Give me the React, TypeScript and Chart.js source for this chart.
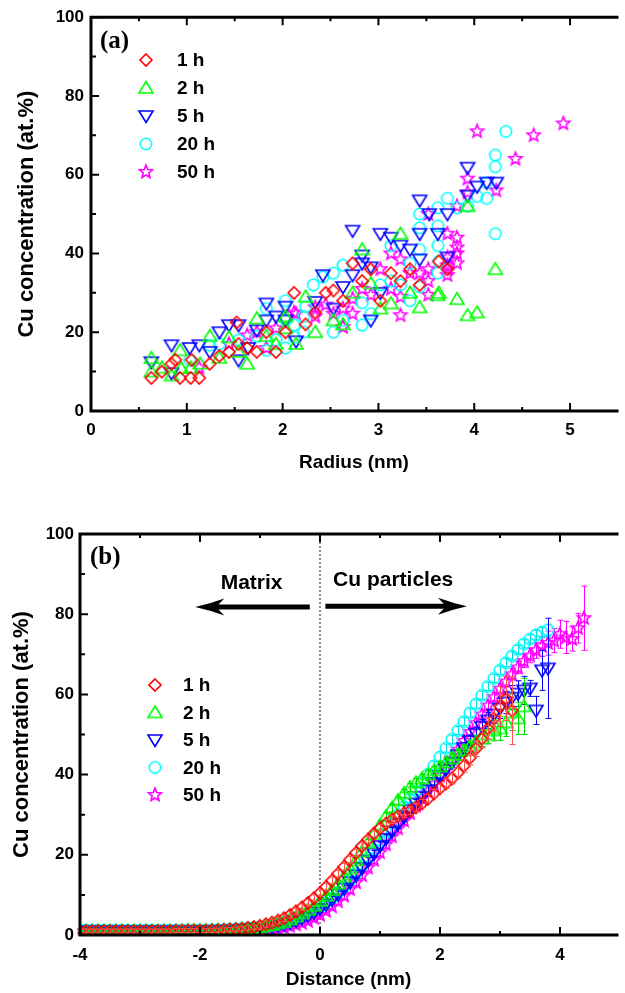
import React, { useEffect, useRef } from 'react';
import { Chart, registerables } from 'chart.js';

Chart.register(...registerables);

// ---------------- DATA ----------------
const seriesLabels = ['1 h', '2 h', '5 h', '20 h', '50 h'];

const radiusTicks = [0, 1, 2, 3, 4, 5];
const radiusMinorTicks = [0.5, 1.5, 2.5, 3.5, 4.5];
const concTicks = [0, 20, 40, 60, 80, 100];
const concMinorTicks = [10, 30, 50, 70, 90];
const distanceTicks = [-4, -2, 0, 2, 4];
const distanceMinorTicks = [-3, -1, 1, 3];

// Panel (a): [radius (nm), Cu concentration (at.%)]
const a1h: [number, number][] = [
  [0.63, 8.4], [0.74, 10.0], [0.84, 12.0], [0.88, 13.0], [0.93, 8.4], [1.04, 8.4], [1.13, 8.4], [1.05, 13.0],
  [1.24, 12.0], [1.34, 14.0], [1.44, 15.0], [1.52, 22.5], [1.54, 17.0], [1.63, 16.0], [1.73, 15.0], [1.83, 20.0],
  [1.93, 15.0], [2.03, 20.0], [2.12, 30.0], [2.24, 22.0], [2.34, 25.0], [2.45, 30.0], [2.53, 30.6], [2.63, 28.0],
  [2.73, 37.5], [2.83, 33.0], [2.92, 36.0], [3.02, 28.0], [3.13, 35.0], [3.23, 33.0], [3.33, 36.0], [3.43, 32.0],
  [3.63, 38.0], [3.72, 36.0],
];
const a2h: [number, number][] = [
  [0.63, 13.4], [0.63, 10.0], [0.74, 11.0], [0.84, 9.0], [0.93, 15.4], [0.94, 10.9], [1.04, 11.0], [1.14, 12.0],
  [1.24, 19.0], [1.34, 13.5], [1.44, 18.7], [1.54, 15.0], [1.63, 12.0], [1.73, 23.5], [1.83, 19.0], [1.93, 17.0],
  [2.03, 24.0], [2.03, 21.0], [2.14, 17.0], [2.24, 29.0], [2.34, 20.0], [2.53, 23.0], [2.63, 22.0], [2.73, 30.0],
  [2.83, 41.0], [2.92, 32.4], [3.02, 26.0], [3.13, 27.3], [3.23, 45.0], [3.33, 30.0], [3.43, 26.3], [3.62, 29.4],
  [3.63, 30.0], [3.82, 28.4], [3.93, 24.3], [3.93, 52.0], [4.03, 25.0], [4.22, 36.0],
];
const a5h: [number, number][] = [
  [0.63, 12.4], [0.84, 16.7], [0.84, 9.6], [1.03, 16.0], [1.13, 16.7], [1.24, 15.0], [1.34, 20.0], [1.44, 21.8],
  [1.54, 21.8], [1.54, 12.9], [1.64, 16.0], [1.73, 20.5], [1.83, 23.0], [1.83, 27.3], [1.93, 24.0], [2.03, 26.5],
  [2.03, 23.0], [2.14, 17.7], [2.34, 27.7], [2.42, 34.5], [2.53, 26.0], [2.63, 31.5], [2.73, 34.5], [2.73, 45.8],
  [2.83, 39.5], [2.83, 37.5], [2.92, 36.5], [2.92, 23.0], [3.02, 45.0], [3.02, 30.0], [3.13, 44.0], [3.23, 42.0],
  [3.33, 41.0], [3.43, 53.5], [3.43, 45.0], [3.43, 38.5], [3.53, 50.0], [3.62, 45.0], [3.72, 50.0], [3.72, 39.0],
  [3.93, 54.7], [3.93, 61.8], [4.03, 57.0], [4.13, 58.0], [4.23, 58.0],
];
const a20h: [number, number][] = [
  [1.03, 12.9], [1.24, 16.7], [1.34, 17.0], [1.54, 18.0], [1.73, 19.0], [1.83, 15.4], [1.83, 26.0], [1.93, 18.0],
  [2.03, 16.0], [2.03, 23.0], [2.03, 28.0], [2.12, 21.8], [2.12, 18.7], [2.22, 24.0], [2.22, 20.0], [2.24, 26.5],
  [2.32, 32.0], [2.42, 34.0], [2.53, 35.0], [2.53, 20.0], [2.63, 37.0], [2.63, 23.0], [2.83, 27.5], [2.83, 21.8],
  [2.92, 24.7], [3.02, 32.0], [3.13, 42.0], [3.13, 33.0], [3.23, 32.0], [3.33, 37.5], [3.33, 28.0], [3.43, 41.0],
  [3.43, 46.5], [3.43, 50.0], [3.43, 31.5], [3.62, 51.6], [3.62, 47.0], [3.62, 42.0], [3.62, 35.0], [3.63, 38.0],
  [3.72, 54.0], [3.82, 51.6], [3.93, 52.0], [4.03, 54.5], [4.13, 58.0], [4.13, 54.0], [4.22, 65.0], [4.22, 62.0],
  [4.22, 45.0], [4.33, 71.0],
];
const a50h: [number, number][] = [
  [1.13, 11.0], [1.44, 17.0], [1.63, 19.2], [1.73, 20.0], [1.83, 16.0], [1.93, 21.0], [2.12, 25.0], [2.14, 24.7],
  [2.34, 26.3], [2.34, 24.0], [2.45, 27.0], [2.53, 24.7], [2.63, 26.0], [2.63, 21.3], [2.73, 28.5], [2.73, 24.7],
  [2.83, 31.0], [2.92, 29.5], [3.02, 36.0], [3.13, 40.0], [3.13, 31.0], [3.23, 38.5], [3.23, 29.0], [3.23, 24.3],
  [3.33, 35.0], [3.43, 35.0], [3.52, 50.0], [3.52, 36.0], [3.52, 33.0], [3.52, 29.5], [3.72, 36.0], [3.72, 34.5],
  [3.72, 45.0], [3.72, 39.0], [3.72, 37.0], [3.82, 40.0], [3.82, 37.5], [3.82, 44.0], [3.82, 41.5], [3.82, 52.0],
  [3.93, 59.0], [3.93, 55.5], [4.03, 71.0], [4.23, 56.0], [4.43, 64.0], [4.62, 70.0], [4.93, 73.0],
];

// Panel (b): distance (nm) shared by all profiles
const distance = [
  -4.0, -3.9, -3.8, -3.7, -3.6, -3.5, -3.4, -3.3, -3.2, -3.1,
  -3.0, -2.9, -2.8, -2.7, -2.6, -2.5, -2.4, -2.3, -2.2, -2.1,
  -2.0, -1.9, -1.8, -1.7, -1.6, -1.5, -1.4, -1.3, -1.2, -1.1,
  -1.0, -0.9, -0.8, -0.7, -0.6, -0.5, -0.4, -0.3, -0.2, -0.1,
  0.0, 0.1, 0.2, 0.3, 0.4, 0.5, 0.6, 0.7, 0.8, 0.9,
  1.0, 1.1, 1.2, 1.3, 1.4, 1.5, 1.6, 1.7, 1.8, 1.9,
  2.0, 2.1, 2.2, 2.3, 2.4, 2.5, 2.6, 2.7, 2.8, 2.9,
  3.0, 3.1, 3.2, 3.3, 3.4, 3.5, 3.6, 3.7, 3.8, 3.9,
  4.0, 4.1, 4.2, 4.3, 4.4,
];
const b1h = [
  1.0, 1.0, 1.0, 1.0, 1.0, 1.0, 1.0, 1.0, 1.0, 1.0,
  1.0, 1.0, 1.0, 1.0, 1.0, 1.0, 1.1, 1.1, 1.1, 1.1,
  1.1, 1.1, 1.2, 1.2, 1.3, 1.4, 1.5, 1.6, 1.8, 2.0,
  2.3, 2.7, 3.1, 3.6, 4.2, 5.0, 5.9, 6.9, 8.0, 9.2,
  10.5, 12.0, 13.6, 15.3, 17.0, 18.8, 20.5, 22.2, 23.8, 25.3,
  26.6, 27.8, 28.8, 29.6, 30.3, 31.0, 31.8, 32.8, 34.0, 35.3,
  36.6, 37.8, 39.0, 40.5, 42.2, 44.2, 46.5, 49.0, 51.5, 54.0,
  57.0, 59.0, 56.0,
];
const b1hErr = [
  0.5, 0.5, 0.5, 0.5, 0.5, 0.5, 0.5, 0.5, 0.5, 0.5,
  0.5, 0.5, 0.5, 0.5, 0.5, 0.5, 0.5, 0.5, 0.5, 0.5,
  0.5, 0.5, 0.5, 0.5, 0.5, 0.5, 0.5, 0.5, 0.5, 0.5,
  0.8, 0.8, 0.8, 0.8, 0.8, 0.8, 0.8, 0.8, 0.8, 0.8,
  0.8, 0.8, 0.8, 0.8, 0.8, 0.8, 0.8, 0.8, 0.8, 0.8,
  1.0, 1.0, 1.0, 1.0, 1.0, 1.0, 1.0, 1.0, 1.0, 1.0,
  1.1, 1.2, 1.3, 1.4, 1.6, 1.8, 2.0, 2.3, 2.7, 3.2,
  5.0, 5.5, 8.5,
];
const b2h = [
  1.0, 1.0, 1.0, 1.0, 1.0, 1.0, 1.0, 1.0, 1.0, 1.0,
  1.0, 1.0, 1.0, 1.0, 1.0, 1.0, 1.0, 1.0, 1.1, 1.1,
  1.1, 1.1, 1.1, 1.2, 1.2, 1.3, 1.3, 1.4, 1.5, 1.7,
  1.9, 2.2, 2.5, 2.9, 3.3, 3.9, 4.6, 5.4, 6.3, 7.3,
  8.5, 9.8, 11.2, 12.8, 14.6, 16.5, 18.6, 20.8, 23.0, 25.2,
  27.4, 29.6, 31.7, 33.6, 35.3, 36.8, 38.0, 39.0, 40.0, 41.0,
  42.0, 43.0, 44.0, 45.0, 46.0, 47.0, 48.0, 49.0, 50.0, 51.0,
  51.5, 53.0, 55.5, 54.0, 57.0,
];
const b2hErr = [
  0.5, 0.5, 0.5, 0.5, 0.5, 0.5, 0.5, 0.5, 0.5, 0.5,
  0.5, 0.5, 0.5, 0.5, 0.5, 0.5, 0.5, 0.5, 0.5, 0.5,
  0.5, 0.5, 0.5, 0.5, 0.5, 0.5, 0.5, 0.5, 0.5, 0.5,
  0.8, 0.8, 0.8, 0.8, 0.8, 0.8, 0.8, 0.8, 0.8, 0.8,
  0.8, 0.8, 0.8, 0.8, 0.8, 0.8, 0.8, 0.8, 0.8, 0.8,
  1.0, 1.0, 1.0, 1.0, 1.0, 1.0, 1.0, 1.0, 1.0, 1.0,
  1.1, 1.2, 1.3, 1.4, 1.5, 1.6, 1.8, 2.0, 2.3, 2.6,
  3.0, 3.5, 4.5, 4.0, 7.0,
];
const b5h = [
  0.9, 0.9, 0.9, 0.9, 0.9, 0.9, 0.9, 0.9, 0.9, 0.9,
  0.9, 0.9, 0.9, 0.9, 0.9, 0.9, 0.9, 0.9, 0.9, 0.9,
  1.0, 1.0, 1.0, 1.0, 1.1, 1.1, 1.2, 1.3, 1.4, 1.5,
  1.6, 1.8, 2.0, 2.3, 2.6, 3.0, 3.5, 4.1, 4.8, 5.6,
  6.5, 7.6, 8.8, 10.1, 11.6, 13.2, 14.9, 16.7, 18.5, 20.3,
  22.2, 24.0, 25.8, 27.6, 29.4, 31.1, 32.8, 34.5, 36.2, 37.9,
  39.6, 41.3, 43.0, 44.8, 46.6, 48.4, 50.2, 51.9, 53.5, 55.0,
  56.5, 58.0, 59.2, 60.2, 61.0, 61.5, 56.0, 66.0, 66.5,
];
const b5hErr = [
  0.5, 0.5, 0.5, 0.5, 0.5, 0.5, 0.5, 0.5, 0.5, 0.5,
  0.5, 0.5, 0.5, 0.5, 0.5, 0.5, 0.5, 0.5, 0.5, 0.5,
  0.5, 0.5, 0.5, 0.5, 0.5, 0.5, 0.5, 0.5, 0.5, 0.5,
  0.8, 0.8, 0.8, 0.8, 0.8, 0.8, 0.8, 0.8, 0.8, 0.8,
  0.8, 0.8, 0.8, 0.8, 0.8, 0.8, 0.8, 0.8, 0.8, 0.8,
  1.0, 1.0, 1.0, 1.0, 1.0, 1.0, 1.0, 1.0, 1.0, 1.0,
  1.0, 1.1, 1.2, 1.3, 1.4, 1.5, 1.6, 1.8, 2.0, 2.2,
  2.5, 2.8, 3.0, 3.2, 3.5, 2.0, 3.5, 5.0, 12.5,
];
const b20h = [
  1.2, 1.2, 1.2, 1.2, 1.2, 1.2, 1.2, 1.2, 1.2, 1.2,
  1.2, 1.2, 1.2, 1.2, 1.2, 1.2, 1.2, 1.2, 1.2, 1.2,
  1.2, 1.2, 1.3, 1.3, 1.3, 1.4, 1.5, 1.6, 1.7, 1.8,
  2.0, 2.2, 2.5, 2.8, 3.2, 3.7, 4.2, 4.8, 5.5, 6.2,
  7.0, 8.0, 9.2, 10.5, 12.0, 13.6, 15.3, 17.2, 19.2, 21.3,
  23.5, 25.7, 27.9, 30.0, 32.0, 34.0, 36.0, 38.0, 40.1, 42.2,
  44.4, 46.6, 48.8, 51.0, 53.2, 55.4, 57.6, 59.8, 62.0, 64.0,
  66.0, 67.9, 69.6, 71.2, 72.6, 73.8, 74.8, 75.5, 76.0,
];
const b20hErr = [
  0.5, 0.5, 0.5, 0.5, 0.5, 0.5, 0.5, 0.5, 0.5, 0.5,
  0.5, 0.5, 0.5, 0.5, 0.5, 0.5, 0.5, 0.5, 0.5, 0.5,
  0.5, 0.5, 0.5, 0.5, 0.5, 0.5, 0.5, 0.5, 0.5, 0.5,
  0.8, 0.8, 0.8, 0.8, 0.8, 0.8, 0.8, 0.8, 0.8, 0.8,
  0.8, 0.8, 0.8, 0.8, 0.8, 0.8, 0.8, 0.8, 0.8, 0.8,
  1.0, 1.0, 1.0, 1.0, 1.0, 1.0, 1.0, 1.0, 1.0, 1.0,
  1.0, 1.0, 1.0, 1.0, 1.0, 1.0, 1.0, 1.0, 1.0, 1.0,
  1.0, 1.0, 1.0, 1.0, 1.0, 1.0, 1.2, 1.2, 1.5,
];
const b50h = [
  0.5, 0.5, 0.5, 0.5, 0.5, 0.5, 0.5, 0.5, 0.5, 0.5,
  0.5, 0.5, 0.5, 0.5, 0.5, 0.5, 0.5, 0.5, 0.5, 0.5,
  0.5, 0.5, 0.5, 0.6, 0.6, 0.6, 0.7, 0.7, 0.8, 0.9,
  1.0, 1.2, 1.4, 1.6, 1.9, 2.2, 2.6, 3.0, 3.5, 4.2,
  5.0, 6.0, 7.1, 8.4, 9.8, 11.4, 13.1, 14.9, 16.8, 18.7,
  20.6, 22.6, 24.6, 26.6, 28.5, 30.4, 32.2, 34.0, 35.8, 37.7,
  39.7, 41.8, 44.0, 46.2, 48.4, 50.6, 52.8, 55.0, 57.2, 59.3,
  61.4, 63.2, 65.0, 66.7, 68.3, 69.7, 71.0, 72.0, 72.8, 73.4,
  75.0, 74.2, 73.8, 76.5, 79.0,
];
const b50hErr = [
  0.5, 0.5, 0.5, 0.5, 0.5, 0.5, 0.5, 0.5, 0.5, 0.5,
  0.5, 0.5, 0.5, 0.5, 0.5, 0.5, 0.5, 0.5, 0.5, 0.5,
  0.5, 0.5, 0.5, 0.5, 0.5, 0.5, 0.5, 0.5, 0.5, 0.5,
  0.8, 0.8, 0.8, 0.8, 0.8, 0.8, 0.8, 0.8, 0.8, 0.8,
  0.8, 0.8, 0.8, 0.8, 0.8, 0.8, 0.8, 0.8, 0.8, 0.8,
  1.0, 1.0, 1.0, 1.0, 1.0, 1.0, 1.0, 1.0, 1.0, 1.0,
  1.1, 1.1, 1.1, 1.1, 1.1, 1.1, 1.1, 1.1, 1.1, 1.1,
  1.2, 1.3, 1.4, 1.5, 1.6, 1.8, 2.0, 2.5, 3.0, 3.0,
  3.5, 4.0, 3.0, 3.7, 8.0,
];

// ---------------- STYLE ----------------
const COLORS = ['#ff0000', '#00ff00', '#0000ff', '#00ffff', '#ff00ff'];
const ERR_COLORS = ['#ff5050', '#00e000', '#0000ff', '#00e0e0', '#ff00ff'];
const SHAPES = ['diamond', 'triUp', 'triDown', 'circle', 'star'];
const SANS = '"Liberation Sans", Arial, Helvetica, sans-serif';
const SERIF = '"Liberation Serif", "Times New Roman", serif';

function makeMarker(shape: string, color: string): HTMLCanvasElement {
  const s = 18;
  const c = document.createElement('canvas');
  c.width = s;
  c.height = s;
  const g = c.getContext('2d')!;
  const m = s / 2;
  g.strokeStyle = color;
  g.lineWidth = 1.6;
  g.beginPath();
  if (shape === 'diamond') {
    g.moveTo(m, m - 6); g.lineTo(m + 6, m); g.lineTo(m, m + 6); g.lineTo(m - 6, m); g.closePath();
  } else if (shape === 'triUp') {
    g.moveTo(m, m - 6.5); g.lineTo(m + 7, m + 5); g.lineTo(m - 7, m + 5); g.closePath();
  } else if (shape === 'triDown') {
    g.moveTo(m, m + 6.5); g.lineTo(m + 7, m - 5); g.lineTo(m - 7, m - 5); g.closePath();
  } else if (shape === 'circle') {
    g.arc(m, m, 5.7, 0, Math.PI * 2);
  } else {
    for (let k = 0; k < 10; k++) {
      const ang = -Math.PI / 2 + (k * Math.PI) / 5;
      const r = k % 2 === 0 ? 6.8 : 3.0;
      const x = m + r * Math.cos(ang);
      const y = m + r * Math.sin(ang);
      if (k === 0) g.moveTo(x, y); else g.lineTo(x, y);
    }
    g.closePath();
  }
  g.stroke();
  return c;
}

function xScale(min: number, max: number, ticks: number[], height: number, title: string, tickPad: number, titlePad: number) {
  return {
    type: 'linear', position: 'bottom', min, max,
    afterBuildTicks: (s: any) => { s.ticks = ticks.map((v) => ({ value: v })); },
    afterFit: (s: any) => { s.height = height; },
    grid: { display: false, drawTicks: false },
    border: { display: false },
    ticks: { color: '#000', font: { family: SANS, size: 17, weight: 'bold' }, padding: tickPad, maxRotation: 0, autoSkip: false },
    title: { display: true, text: title, color: '#000', font: { family: SANS, size: 19, weight: 'bold' }, padding: { top: 0, bottom: titlePad } },
  };
}

function yScale(width: number, titlePad: number, tickPad: number) {
  return {
    type: 'linear', position: 'left', min: 0, max: 100,
    afterBuildTicks: (s: any) => { s.ticks = concTicks.map((v) => ({ value: v })); },
    afterFit: (s: any) => { s.width = width; },
    grid: { display: false, drawTicks: false },
    border: { display: false },
    ticks: { color: '#000', font: { family: SANS, size: 17, weight: 'bold' }, padding: tickPad, autoSkip: false },
    title: { display: true, text: 'Cu concentration (at.%)', color: '#000', font: { family: SANS, size: 22, weight: 'bold' }, padding: { top: titlePad, bottom: 0 } },
  };
}

function framePlugin(xMajor: number[], xMinor: number[]) {
  return {
    id: 'frame',
    afterDatasetsDraw(chart: any) {
      const { ctx, chartArea: a, scales } = chart;
      const xs = scales.x;
      const ys = scales.y;
      ctx.save();
      ctx.strokeStyle = '#000';
      ctx.lineWidth = 2;
      ctx.beginPath();
      const xt = [...xMajor.map((v) => [v, 8]), ...xMinor.map((v) => [v, 4])];
      xt.forEach(([v, len]) => {
        const px = xs.getPixelForValue(v);
        ctx.moveTo(px, a.bottom); ctx.lineTo(px, a.bottom - len);
        ctx.moveTo(px, a.top); ctx.lineTo(px, a.top + len);
      });
      const yt = [...concTicks.map((v) => [v, 8]), ...concMinorTicks.map((v) => [v, 5])];
      yt.forEach(([v, len]) => {
        const py = ys.getPixelForValue(v);
        ctx.moveTo(a.left, py); ctx.lineTo(a.left + len, py);
      });
      ctx.stroke();
      ctx.lineWidth = 3;
      ctx.lineCap = 'square';
      ctx.beginPath();
      ctx.moveTo(a.right, a.top); ctx.lineTo(a.left, a.top); ctx.lineTo(a.left, a.bottom); ctx.lineTo(a.right, a.bottom);
      ctx.stroke();
      ctx.restore();
    },
  };
}

function legendPlugin(cfg: { x: number; y: number; dy: number; gap: number; tag: string; tagX: number; tagY: number }) {
  return {
    id: 'sketchLegend',
    afterDraw(chart: any) {
      const { ctx } = chart;
      ctx.save();
      ctx.fillStyle = '#000';
      ctx.textBaseline = 'middle';
      ctx.textAlign = 'left';
      ctx.font = `bold 19px ${SANS}`;
      chart.data.datasets.forEach((ds: any, i: number) => {
        const y = cfg.y + i * cfg.dy;
        const img = ds.pointStyle as HTMLCanvasElement;
        ctx.drawImage(img, cfg.x - img.width / 2, y - img.height / 2);
        ctx.fillText(ds.label, cfg.x + cfg.gap, y + 1);
      });
      ctx.font = `bold 25px ${SERIF}`;
      ctx.fillText(cfg.tag, cfg.tagX, cfg.tagY);
      ctx.restore();
    },
  };
}

const errorBarPlugin = {
  id: 'errorBars',
  afterDatasetDraw(chart: any, args: any) {
    const ds: any = chart.data.datasets[args.index];
    if (!ds.errors) return;
    const { ctx, scales } = chart;
    ctx.save();
    ctx.strokeStyle = ds.errorColor;
    ctx.lineWidth = 1;
    ctx.beginPath();
    ds.data.forEach((p: any, k: number) => {
      const e = ds.errors[k];
      const px = Math.round(scales.x.getPixelForValue(p.x)) + 0.5;
      const y1 = scales.y.getPixelForValue(p.y - e);
      const y2 = scales.y.getPixelForValue(p.y + e);
      ctx.moveTo(px, y1); ctx.lineTo(px, y2);
      ctx.moveTo(px - 3, y1); ctx.lineTo(px + 3, y1);
      ctx.moveTo(px - 3, y2); ctx.lineTo(px + 3, y2);
    });
    ctx.stroke();
    ctx.restore();
  },
};

const annotationPlugin = {
  id: 'annotations',
  beforeDatasetsDraw(chart: any) {
    const { ctx, chartArea: a, scales } = chart;
    const x0 = scales.x.getPixelForValue(0);
    ctx.save();
    ctx.strokeStyle = '#666';
    ctx.lineWidth = 1.5;
    ctx.setLineDash([2, 2]);
    ctx.beginPath();
    ctx.moveTo(x0, a.top); ctx.lineTo(x0, a.bottom);
    ctx.stroke();
    ctx.restore();
  },
  afterDraw(chart: any) {
    const { ctx, scales } = chart;
    const X = (v: number) => scales.x.getPixelForValue(v);
    const Y = (v: number) => scales.y.getPixelForValue(v);
    const arrow = (from: number, to: number, yv: number) => {
      const y = Y(yv);
      const xs = X(from);
      const xt = X(to);
      const d = Math.sign(to - from);
      ctx.beginPath();
      ctx.lineWidth = 5;
      ctx.moveTo(xs, y); ctx.lineTo(xt - d * 20, y);
      ctx.stroke();
      ctx.beginPath();
      ctx.moveTo(xt, y);
      ctx.quadraticCurveTo(xt - d * 14, y - 3, xt - d * 29, y - 8.5);
      ctx.lineTo(xt - d * 21, y);
      ctx.lineTo(xt - d * 29, y + 8.5);
      ctx.quadraticCurveTo(xt - d * 14, y + 3, xt, y);
      ctx.closePath();
      ctx.fill();
    };
    ctx.save();
    ctx.strokeStyle = '#000';
    ctx.fillStyle = '#000';
    arrow(-0.17, -2.08, 81.8);
    arrow(0.09, 2.45, 82.0);
    ctx.font = `bold 21px ${SANS}`;
    ctx.textAlign = 'center';
    ctx.textBaseline = 'middle';
    ctx.fillText('Matrix', X(-1.14), Y(87.8));
    ctx.fillText('Cu particles', X(1.22), Y(88.5));
    ctx.restore();
  },
};

const baseOptions = (padTop: number) => ({
  animation: false,
  responsive: false,
  events: [],
  layout: { padding: { top: padTop, left: 0, right: 0, bottom: 0 } },
  plugins: { legend: { display: false }, tooltip: { enabled: false }, title: { display: false } },
});

function PanelA() {
  const ref = useRef<HTMLCanvasElement>(null);
  useEffect(() => {
    const markers = SHAPES.map((s, i) => makeMarker(s, COLORS[i]));
    const series = [a1h, a2h, a5h, a20h, a50h];
    const chart = new Chart(ref.current!, {
      type: 'scatter',
      data: {
        datasets: series.map((pts, i) => ({
          label: seriesLabels[i],
          data: pts.map(([x, y]) => ({ x, y })),
          pointStyle: markers[i],
          pointRadius: 7,
          pointHoverRadius: 7,
          showLine: false,
        })),
      },
      options: {
        ...baseOptions(17),
        scales: {
          x: xScale(0, 5.49, radiusTicks, 79, 'Radius (nm)', 9, 15.6),
          y: yScale(91, 13.8, 7),
        },
      } as any,
      plugins: [
        framePlugin(radiusTicks, radiusMinorTicks),
        legendPlugin({ x: 146, y: 60, dy: 28, gap: 31, tag: '(a)', tagX: 100, tagY: 42 }),
      ],
    });
    return () => chart.destroy();
  }, []);
  return <canvas ref={ref} width={625} height={490} style={{ display: 'block' }} />;
}

function PanelB() {
  const ref = useRef<HTMLCanvasElement>(null);
  useEffect(() => {
    const markers = SHAPES.map((s, i) => makeMarker(s, COLORS[i]));
    const series = [b1h, b2h, b5h, b20h, b50h];
    const errors = [b1hErr, b2hErr, b5hErr, b20hErr, b50hErr];
    const chart = new Chart(ref.current!, {
      type: 'scatter',
      data: {
        datasets: series.map((vals, i) => ({
          label: seriesLabels[i],
          data: vals.map((y, k) => ({ x: distance[k], y })),
          errors: errors[i],
          errorColor: ERR_COLORS[i],
          pointStyle: markers[i],
          pointRadius: 7,
          pointHoverRadius: 7,
          showLine: false,
        })),
      } as any,
      options: {
        ...baseOptions(44),
        scales: {
          x: xScale(-4, 4.95, distanceTicks, 58, 'Distance (nm)', 10, 1.6),
          y: yScale(80, 8.8, 6),
        },
      } as any,
      plugins: [
        annotationPlugin,
        errorBarPlugin,
        framePlugin(distanceTicks, distanceMinorTicks),
        legendPlugin({ x: 155, y: 195, dy: 27.5, gap: 28, tag: '(b)', tagX: 90, tagY: 68 }),
      ],
    });
    return () => chart.destroy();
  }, []);
  return <canvas ref={ref} width={625} height={503} style={{ display: 'block' }} />;
}

export default function App() {
  return (
    <div style={{ position: 'absolute', left: 0, top: 0, width: 625, height: 993, background: '#fff' }}>
      <PanelA />
      <PanelB />
    </div>
  );
}
